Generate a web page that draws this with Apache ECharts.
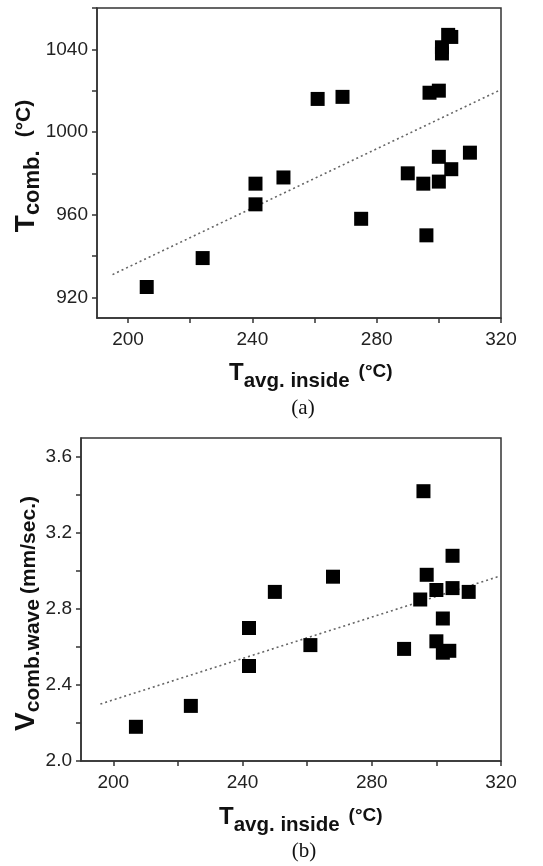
<!DOCTYPE html>
<html>
<head>
<meta charset="utf-8">
<script src="https://cdn.jsdelivr.net/npm/echarts@6/dist/echarts.min.js"></script>
<style>
html,body{margin:0;padding:0;background:#fff;}
#chart{width:543px;height:866px;}
</style>
</head>
<body>
<div id="chart"></div>
<script>
// ---- Panel (a): T_comb vs T_avg.inside ----
const xA = [206, 224, 241, 241, 250, 261, 269, 275, 290, 295, 296, 297, 300, 300, 300, 301, 301, 303, 304, 304, 310];
const yA = [925, 939, 975, 965, 978, 1016, 1017, 958, 980, 975, 950, 1019, 1020, 988, 976, 1041, 1038, 1047, 1046, 982, 990];
const trendAx = [195, 320];
const trendAy = [931, 1020.5];

// ---- Panel (b): V_comb.wave vs T_avg.inside ----
const xB = [207, 224, 242, 242, 250, 261, 268, 290, 295, 296, 297, 300, 300, 302, 302, 304, 305, 305, 310];
const yB = [2.18, 2.29, 2.70, 2.50, 2.89, 2.61, 2.97, 2.59, 2.85, 3.42, 2.98, 2.90, 2.63, 2.75, 2.57, 2.58, 3.08, 2.91, 2.89];
const trendBx = [196, 320];
const trendBy = [2.30, 2.975];

// ---- Ticks ----
const xTicks = [200, 220, 240, 260, 280, 300, 320];
const xLabels = [200, 240, 280, 320];
const yTicksA = [920, 940, 960, 980, 1000, 1020, 1040, 1060];
const yLabelsA = [920, 960, 1000, 1040];
const yTicksB = [2.0, 2.2, 2.4, 2.6, 2.8, 3.0, 3.2, 3.4, 3.6];
const yLabelsB = [2.0, 2.4, 2.8, 3.2, 3.6];

const FONT = 'Liberation Sans, Arial, sans-serif';
const axisColor = '#333';
const labelColor = '#222';

function pairs(xs, ys) { return xs.map((x, i) => [x, ys[i]]); }

const richX = {
  T: { fontFamily: FONT, fontWeight: 'bold', fontSize: 24, color: '#111', lineHeight: 24 },
  s: { fontFamily: FONT, fontWeight: 'bold', fontSize: 20.5, color: '#111', lineHeight: 24, padding: [16, 0, 0, 0] },
  u: { fontFamily: FONT, fontWeight: 'bold', fontSize: 19, color: '#111', lineHeight: 24, padding: [0, 0, 2, 9] }
};
const richYA = {
  T: { fontFamily: FONT, fontWeight: 'bold', fontSize: 28, color: '#111', lineHeight: 26 },
  s: { fontFamily: FONT, fontWeight: 'bold', fontSize: 22, color: '#111', lineHeight: 26, padding: [14, 0, 0, 0] },
  u: { fontFamily: FONT, fontWeight: 'bold', fontSize: 21, color: '#111', lineHeight: 26, padding: [0, 0, 4, 13] }
};
const richYB = {
  T: { fontFamily: FONT, fontWeight: 'bold', fontSize: 28, color: '#111', lineHeight: 26 },
  s: { fontFamily: FONT, fontWeight: 'bold', fontSize: 21, color: '#111', lineHeight: 26, padding: [14, 0, 0, 0] },
  p: { fontFamily: FONT, fontWeight: 'bold', fontSize: 21, color: '#111', lineHeight: 26, padding: [6, 0, 0, 5] }
};

function xAxisCfg(gi) {
  return {
    type: 'value', gridIndex: gi, min: 190, max: 320,
    axisLine: { show: true, lineStyle: { color: axisColor, width: 1.5 } },
    axisTick: { show: true, inside: false, length: 5, lineStyle: { color: axisColor, width: 1.5 }, customValues: xTicks },
    axisLabel: { show: true, margin: 12, color: labelColor, fontSize: 19, fontFamily: FONT, customValues: xLabels },
    splitLine: { show: false }
  };
}
function yAxisCfg(gi, min, max, ticks, labels, fmt, name, gap, rich, pad) {
  return {
    type: 'value', gridIndex: gi, min: min, max: max,
    axisLine: { show: true, lineStyle: { color: axisColor, width: 1.5 } },
    axisTick: { show: true, inside: false, length: 5, lineStyle: { color: axisColor, width: 1.5 }, customValues: ticks },
    axisLabel: { show: true, margin: 9, color: labelColor, fontSize: 19, fontFamily: FONT, customValues: labels, formatter: fmt },
    splitLine: { show: false },
    name: name, nameLocation: 'middle', nameRotate: 90, nameGap: gap, nameMoveOverlap: false,
    nameTextStyle: { rich: rich, padding: pad }
  };
}

const chart = echarts.init(document.getElementById('chart'), null, { renderer: 'canvas' });
chart.setOption({
  animation: false,
  backgroundColor: '#fff',
  grid: [
    { left: 97, top: 8, width: 404, height: 310, show: true, borderColor: axisColor, borderWidth: 1.5, backgroundColor: 'transparent', outerBoundsMode: 'none', containLabel: false },
    { left: 81, top: 438, width: 420, height: 323, show: true, borderColor: axisColor, borderWidth: 1.5, backgroundColor: 'transparent', outerBoundsMode: 'none', containLabel: false }
  ],
  title: [
    { text: '{T|T}{s|avg. inside}{u|(°C)}', left: 229, top: 361, padding: 0, textStyle: { rich: richX } },
    { text: '(a)', left: 303, top: 398, padding: 0, textAlign: 'center', textStyle: { fontFamily: 'Liberation Serif, Times New Roman, serif', fontWeight: 'normal', fontSize: 21, color: '#111' } },
    { text: '{T|T}{s|avg. inside}{u|(°C)}', left: 219, top: 805, padding: 0, textStyle: { rich: richX } },
    { text: '(b)', left: 304, top: 841, padding: 0, textAlign: 'center', textStyle: { fontFamily: 'Liberation Serif, Times New Roman, serif', fontWeight: 'normal', fontSize: 21, color: '#111' } }
  ],
  xAxis: [xAxisCfg(0), xAxisCfg(1)],
  yAxis: [
    yAxisCfg(0, 910, 1060, yTicksA, yLabelsA, v => String(v), '{T|T}{s|comb.}{u|(°C)}', 58, richYA, [0, 6, 0, 0]),
    yAxisCfg(1, 2.0, 3.7, yTicksB, yLabelsB, v => Number(v).toFixed(1), '{T|V}{s|comb.wave}{p|(mm/sec.)}', 42, richYB, [0, 28, 0, 0])
  ],
  series: [
    { type: 'line', xAxisIndex: 0, yAxisIndex: 0, data: pairs(trendAx, trendAy), showSymbol: false, symbol: 'none',
      lineStyle: { color: '#666', width: 1.6, type: [2, 3] }, z: 1 },
    { type: 'scatter', xAxisIndex: 0, yAxisIndex: 0, data: pairs(xA, yA), symbol: 'rect', symbolSize: 14,
      itemStyle: { color: '#000', opacity: 1 }, z: 2 },
    { type: 'line', xAxisIndex: 1, yAxisIndex: 1, data: pairs(trendBx, trendBy), showSymbol: false, symbol: 'none',
      lineStyle: { color: '#666', width: 1.6, type: [2, 3] }, z: 1 },
    { type: 'scatter', xAxisIndex: 1, yAxisIndex: 1, data: pairs(xB, yB), symbol: 'rect', symbolSize: 14,
      itemStyle: { color: '#000', opacity: 1 }, z: 2 }
  ]
});
</script>
</body>
</html>
